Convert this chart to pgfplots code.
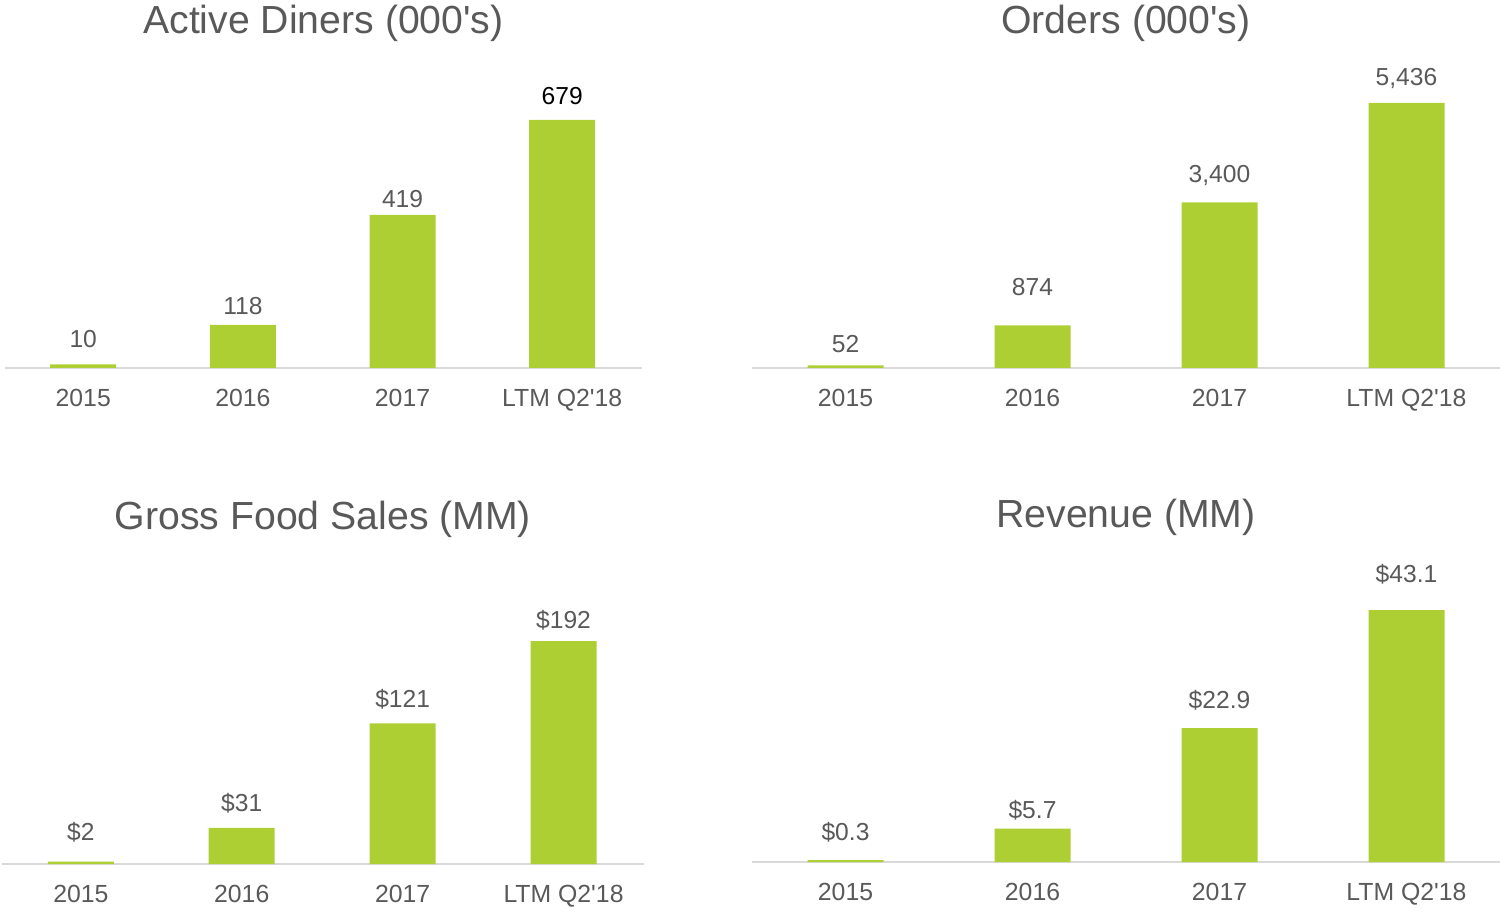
\documentclass[border=0pt]{standalone}
\usepackage{pgfplots}
\usepackage{pgfplotstable}
\pgfplotsset{compat=1.18}
\usepackage{fontspec}
\setmainfont{Liberation Sans}

\definecolor{barg}{RGB}{173,207,52}
\definecolor{txt}{RGB}{89,89,89}
\definecolor{baseln}{RGB}{217,217,217}

% x value label yshift(pt)
\pgfplotstableread{
x y lab off
0 10 10 8.1
1 118 118 5.1
2 419 419 3.6
3 679 \textcolor{black}{679} 7.6
}\diners
\pgfplotstableread{
x y lab off
0 52 52 6.1
1 874 874 14.6
2 3400 3,400 9.6
3 5436 5,436 8.6
}\orders
\pgfplotstableread{
x y lab off
0 2 \$2 10.6
1 31 \$31 8.1
2 121 \$121 7.6
3 192 \$192 6.1
}\gfs
\pgfplotstableread{
x y lab off
0 0.3 \$0.3 9.6
1 5.7 \$5.7 5.1
2 22.9 \$22.9 9.6
3 43.1 \$43.1 13.6
}\revenue

\pgfplotsset{
  panel/.style={
    scale only axis, enlargelimits=false, clip=false,
    ymin=0, height=154pt,
    axis x line*=bottom, axis y line=none,
    x axis line style={-, draw=baseln, line width=1pt},
    xtick={0,1,2,3}, xticklabels={2015,2016,2017,LTM Q2\textquotesingle 18},
    major tick length=0pt,
    xticklabel style={font=\fontsize{12.4}{14}\selectfont, text=txt,
      inner sep=0pt, text depth=0pt, anchor=north, yshift=-10.6pt},
    ybar, bar width=33pt,
    title style={font=\fontsize{19.6}{23}\selectfont, text=txt,
      anchor=center, at={(0.5,1)}, yshift=12.5pt},
    point meta=explicit symbolic,
    nodes near coords={\pgfplotspointmeta},
    visualization depends on={\thisrow{off} \as \off},
    every node near coord/.append style={font=\fontsize{12.3}{14}\selectfont,
      text=txt, inner sep=0pt, text depth=0pt, yshift=\off pt},
  },
  narrow/.style={panel, xmin=-0.49, xmax=3.5, bar width=33pt},
  wide/.style={panel, xmin=-0.5, xmax=3.5, width=374pt, bar width=38pt},
}

\begin{document}
\begin{tikzpicture}
\useasboundingbox (0,0) rectangle (750pt,-457pt);

\begin{axis}[narrow, at={(2.5pt,-184pt)}, anchor=south west,
  width=318.5pt, ymax=843, title={Active Diners (000\textquotesingle s)}]
  \addplot[fill=barg, draw=none] table[x=x, y=y, meta=lab] {\diners};
\end{axis}

\begin{axis}[wide, at={(376pt,-184pt)}, anchor=south west,
  ymax=6318, title={Orders (000\textquotesingle s)}]
  \addplot[fill=barg, draw=none] table[x=x, y=y, meta=lab] {\orders};
\end{axis}

\begin{axis}[narrow, at={(1pt,-432pt)}, anchor=south west,
  width=321pt, ymax=265.2, title={Gross Food Sales (MM)}]
  \addplot[fill=barg, draw=none] table[x=x, y=y, meta=lab] {\gfs};
\end{axis}

\begin{axis}[wide, at={(376pt,-431pt)}, anchor=south west,
  ymax=52.68, title={Revenue (MM)}]
  \addplot[fill=barg, draw=none] table[x=x, y=y, meta=lab] {\revenue};
\end{axis}
\end{tikzpicture}
\end{document}
